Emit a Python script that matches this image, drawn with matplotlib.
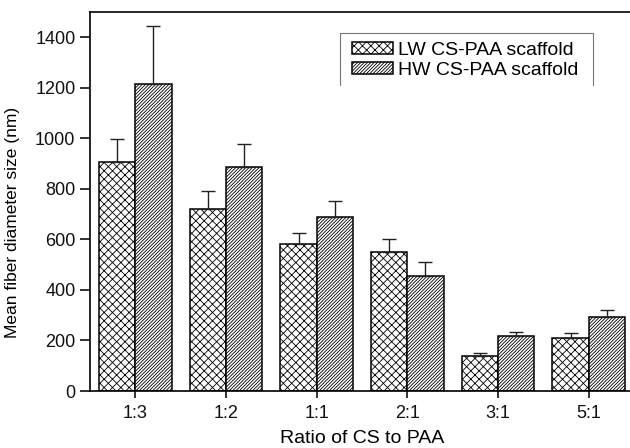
import numpy as np
import matplotlib.pyplot as plt

plt.rcParams['font.family'] = ['Liberation Sans', 'DejaVu Sans']
plt.rcParams['hatch.linewidth'] = 0.6
plt.rcParams['hatch.color'] = '#333333'

# datos
ratios = ['1:3', '1:2', '1:1', '2:1', '3:1', '5:1']
lw_mean = [907, 722, 581, 550, 140, 208]
lw_err = [90, 68, 43, 52, 11, 20]
hw_mean = [1214, 886, 688, 455, 219, 294]
hw_err = [232, 93, 63, 55, 15, 25]

x = np.arange(len(ratios))
w = 0.4

fig = plt.figure(figsize=(6.3, 4.48), dpi=100)
ax = fig.add_axes([90/630, 57/448, 544/630, 379/448])

ax.bar(x - w/2, lw_mean, w, color='white', edgecolor='black', linewidth=1.1,
       hatch='xxxx', label='LW CS-PAA scaffold')
ax.bar(x + w/2, hw_mean, w, color='white', edgecolor='black', linewidth=1.1,
       hatch='//////////', label='HW CS-PAA scaffold')
# barras de error solo hacia arriba
ax.errorbar(x - w/2, lw_mean, yerr=[np.zeros(len(x)), lw_err], fmt='none',
            ecolor='#222222', elinewidth=1, capsize=5, capthick=1)
ax.errorbar(x + w/2, hw_mean, yerr=[np.zeros(len(x)), hw_err], fmt='none',
            ecolor='#222222', elinewidth=1, capsize=5, capthick=1)

ax.set_xlim(-0.5, 5.5)
ax.set_ylim(0, 1500)
ax.set_yticks(np.arange(0, 1401, 200))
ax.set_xticks(x)
ax.set_xticklabels(ratios)
ax.tick_params(direction='out', width=1.2, labelsize=13, colors='#111111')
ax.tick_params(axis='y', length=7)
ax.tick_params(axis='x', length=5, pad=5)
for s in ax.spines.values():
    s.set_linewidth(1.2)

ax.set_xlabel('Ratio of CS to PAA', fontsize=14, va='baseline')
ax.xaxis.set_label_coords(0.501, -0.137)
ax.set_ylabel('Mean fiber diameter size (nm)', fontsize=12.5)
ax.yaxis.set_label_coords(-0.128, 0.446)

# leyenda sin marco; el marco (abierto abajo) se dibuja aparte
leg = ax.legend(loc='upper left', bbox_to_anchor=(0.4816, 0.922), fontsize=14,
                frameon=False, handlelength=2.1, handleheight=0.57,
                borderpad=0, labelspacing=0.17, handletextpad=0.26,
                borderaxespad=0)
ax.plot([0.4596, 0.4596, 0.9246, 0.9246], [0.8074, 0.9446, 0.9446, 0.8074],
        color='#777777', lw=0.8, transform=ax.transAxes, clip_on=False)

plt.savefig('out.png', dpi=100)
